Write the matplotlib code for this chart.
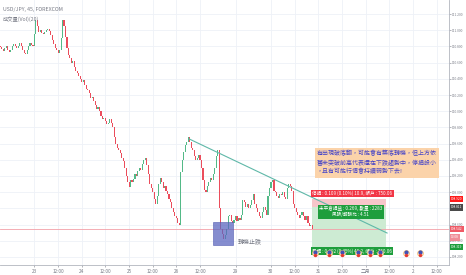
import numpy as np
import matplotlib.pyplot as plt
from matplotlib.patches import Rectangle
from matplotlib.transforms import blended_transform_factory

plt.rcParams['font.family'] = ['Noto Sans CJK TC', 'DejaVu Sans']

# USD/JPY 45 分鐘收盤價
closes = [
    110.79, 110.77, 110.74, 110.78, 110.80, 110.76, 110.73, 110.75, 110.80, 110.83,
    110.80, 110.78, 110.81, 110.84, 110.80, 110.76, 110.72, 110.71, 110.75, 110.80,
    110.84, 110.82, 110.80, 110.95, 111.12, 111.05, 110.98, 111.00, 110.97, 110.95,
    110.98, 111.00, 111.02, 110.99, 110.94, 110.88, 110.83, 110.78, 110.76, 110.72,
    110.75, 110.90, 111.13, 111.05, 110.92, 110.78, 110.70, 110.66, 110.60, 110.62,
    110.55, 110.50, 110.47, 110.44, 110.40, 110.36, 110.38, 110.32, 110.28, 110.26,
    110.22, 110.16, 110.18, 110.12, 110.08, 110.03, 110.05, 110.00, 109.94, 109.90,
    109.92, 109.88, 109.84, 109.86, 109.90, 109.85, 109.80, 109.68, 109.60, 109.55,
    109.52, 109.48, 109.42, 109.38, 109.30, 109.20, 109.12, 109.06, 109.15, 109.12,
    109.16, 109.22, 109.20, 109.26, 109.30, 109.28, 109.35, 109.40, 109.42, 109.34,
    109.22, 109.10, 109.05, 109.00, 108.92, 108.85, 108.95, 109.10, 109.18, 109.12,
    109.05, 109.08, 109.02, 108.98, 108.92, 108.88, 108.80, 108.76, 108.70, 108.68,
    108.62, 108.60, 109.25, 109.40, 109.50, 109.58, 109.62, 109.68, 109.62, 109.55,
    109.52, 109.45, 109.40, 109.42, 109.46, 109.40, 109.30, 109.15, 109.03, 109.00,
    109.08, 109.12, 109.18, 109.15, 109.22, 109.30, 109.45, 109.52, 108.80, 108.55,
    108.48, 108.42, 108.47, 108.55, 108.70, 108.72, 108.65, 108.62, 108.66, 108.70,
    108.64, 108.68, 108.66, 108.72, 108.90, 108.88, 108.82, 108.86, 108.80, 108.84,
    108.90, 108.98, 108.85, 108.80, 108.75, 108.70, 108.68, 108.76, 108.82, 108.78,
    108.72, 108.95, 109.05, 109.12, 109.15, 109.02, 109.00, 108.95, 108.93, 108.98,
    108.96, 109.00, 108.94, 108.92, 109.05, 109.10, 109.08, 109.02, 108.85, 108.80,
    108.75, 108.72, 108.68, 108.72, 108.76, 108.70, 108.66, 108.70, 108.62, 108.58,
    108.60, 108.542,
]
first_open = 110.80

tick_pos = [23, 39, 55, 71, 87, 103, 119, 135, 159, 183, 199, 215, 231, 247, 263, 279, 295]
tick_lab = ['23', '12:00', '24', '12:00', '25', '12:00', '26', '12:00', '29', '30',
            '12:00', '31', '12:00', '二月', '12:00', '2', '12:00']
price_ticks = [108.2, 108.4, 108.6, 108.8, 109.0, 109.2, 109.4, 109.6, 109.8,
               110.0, 110.2, 110.4, 110.6, 110.8, 111.0, 111.2]

# 畫圖工具
trend_x = [127.7, 261.5]
trend_y = [109.657, 108.496]
pos_start, pos_end = 211, 261
stop_price, entry_price, target_price, last_price = 108.920, 108.811, 108.319, 108.542
box_x = [144, 157.5]
box_y = [108.348, 108.632]
event_x = [213, 222, 231, 242, 250, 257, 274, 284]
event_y = 108.25

note_lines = ['有出現破底翻，可能會有築底轉機，但上方依',
              '舊未突破前高代表還在下跌趨勢中，停損設小',
              '，且有可能行情會持續弱勢下去!']

up_c = '#53b987'
dn_c = '#eb4d5c'
grid_c = '#eef1f7'
txt_c = '#787b86'

fig = plt.figure(figsize=(4.66, 2.75), dpi=100)
ax = fig.add_axes([0, 10 / 275, 449 / 466, 265 / 275])

x = np.arange(len(closes))
c = np.array(closes)
o = np.concatenate([[first_open], c[:-1]])
cols = [up_c if cc >= oo else dn_c for oo, cc in zip(o, c)]
h = np.abs(c - o)
h = np.where(h < 0.006, 0.006, h)
ax.bar(x, h, bottom=np.minimum(o, c), width=0.75, color=cols, linewidth=0, zorder=3)

ax.set_xlim(-0.3, 303.4)
ax.set_ylim(108.101, 111.373)

for p in price_ticks:
    ax.axhline(p, color=grid_c, lw=0.6, zorder=0)
for t in tick_pos:
    ax.axvline(t, color=grid_c, lw=0.6, zorder=0)

# 現價線
ax.axhline(last_price, color='#f3a0a8', lw=0.6, zorder=2)

# 趨勢線
ax.plot(trend_x, trend_y, color='#5fb8a8', lw=0.8, zorder=4)

# 部位工具
ax.add_patch(Rectangle((pos_start, entry_price), pos_end - pos_start, stop_price - entry_price,
                       facecolor='#f7c6ca', edgecolor='none', zorder=1))
ax.add_patch(Rectangle((pos_start, target_price), pos_end - pos_start, entry_price - target_price,
                       facecolor='#cdebd3', edgecolor='none', zorder=1))
ax.text((pos_start + pos_end) / 2 + 2, 108.985, '停損 : 0.109 (0.10%) 10.9, 帳戶 : 750.06',
        fontsize=3.3, color='white', ha='center', va='center', zorder=6,
        bbox=dict(boxstyle='square,pad=0.25', fc='#f23645', ec='none'))
ax.text((pos_start + pos_end) / 2 + 1, 108.76, '未平倉損益 : 0.269, 數量 : 2283\n風險/報酬比 : 4.51',
        fontsize=3.3, color='white', ha='center', va='center', zorder=6, linespacing=1.2,
        bbox=dict(boxstyle='square,pad=0.3', fc='#1e9e3c', ec='none'))
ax.text((pos_start + pos_end) / 2 + 2, 108.27, '目標 : 0.492 (0.45%) 49.2, 帳戶 : 750.06',
        fontsize=3.3, color='white', ha='center', va='center', zorder=5,
        bbox=dict(boxstyle='square,pad=0.25', fc='#1e9e3c', ec='none'))

# 藍色方框
ax.add_patch(Rectangle((box_x[0], box_y[0]), box_x[1] - box_x[0], box_y[1] - box_y[0],
                       facecolor='#5c67c0', edgecolor='#4b55ad', lw=0.5, alpha=0.75, zorder=5))
ax.text(160.5, 108.40, '轉機止跌', fontsize=4.3, color=txt_c, va='center', zorder=6)

# 註解框
ax.add_patch(Rectangle((212.8, 109.175), 83.8, 0.371, facecolor='#fbd3aa', edgecolor='none', zorder=5))
for k, line in enumerate(note_lines):
    ax.text(214.0, 109.478 - k * 0.112, line, fontsize=4.3, color='#4343c8',
            va='center', ha='left', zorder=6)

# 經濟事件圖示
ax.scatter(event_x, [event_y] * len(event_x), s=16, facecolor='#eef0fb', edgecolor='#f5c07a',
           linewidth=0.8, zorder=7, clip_on=False)
ax.scatter(event_x, [event_y + 0.015] * len(event_x), s=4, color='#3f51b5', zorder=8, clip_on=False)
ax.scatter(event_x, [event_y - 0.03] * len(event_x), s=2, color='#e53935', zorder=8, clip_on=False)

# 左上文字
ax.text(0.006, 0.975, 'USD/JPY, 45, FOREXCOM', transform=ax.transAxes, fontsize=3.8,
        color=txt_c, va='top', ha='left')
ax.text(0.006, 0.94, '成交量(Vol)(20)', transform=ax.transAxes, fontsize=3.8,
        color=txt_c, va='top', ha='left')

# 軸
for s in ['top', 'left']:
    ax.spines[s].set_visible(False)
ax.spines['right'].set_color('#b2b5be')
ax.spines['bottom'].set_color('#b2b5be')
ax.spines['right'].set_linewidth(0.6)
ax.spines['bottom'].set_linewidth(0.6)
ax.yaxis.tick_right()
ax.set_yticks(price_ticks)
ax.set_yticklabels([f'{p:.3f}' for p in price_ticks])
ax.set_xticks(tick_pos)
ax.set_xticklabels(tick_lab)
ax.tick_params(axis='x', labelsize=3.4, colors=txt_c, length=1.5, width=0.4, pad=1.5)
ax.tick_params(axis='y', labelsize=2.3, colors=txt_c, length=1.2, width=0.4, pad=0.8)

# 右側價格標籤
tr = blended_transform_factory(ax.transAxes, ax.transData)
labels = [(stop_price, '108.920', '#ff1a1a'), (entry_price, '108.811', '#4a4a4a'),
          (last_price, '108.542', '#ef5a66'), (last_price - 0.1, '13:08', '#f08c96'),
          (target_price, '108.319', '#1e9e3c')]
for yv, s, fc in labels:
    ax.text(1.004, yv, s, transform=tr, fontsize=2.3, color='white', ha='left', va='center',
            clip_on=False, zorder=9, bbox=dict(boxstyle='square,pad=0.35', fc=fc, ec='none'))

fig.savefig('out.png', dpi=100)
